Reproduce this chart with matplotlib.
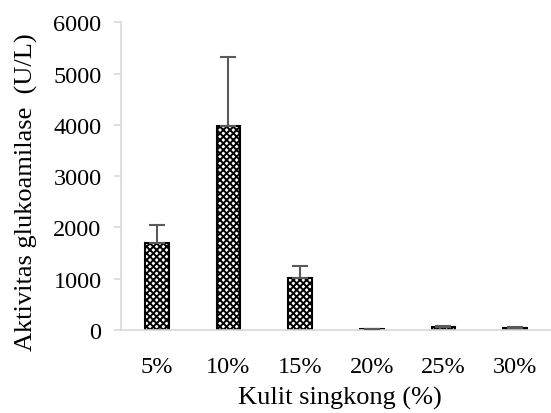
import numpy as np
import matplotlib.pyplot as plt
import matplotlib as mpl

plt.rcParams['font.family'] = ['Liberation Serif', 'DejaVu Serif']
mpl.rcParams['hatch.linewidth'] = 1.4

# data
categories = ['5%', '10%', '15%', '20%', '25%', '30%']
activity = [1690, 3980, 1010, 10, 60, 45]
err_up = [360, 1335, 240, 0, 20, 15]

fig = plt.figure(figsize=(5.51, 4.14), dpi=100)
ax = fig.add_axes([0.2196, 0.2005, 0.78, 0.7432])

x = np.arange(len(categories))
ax.bar(x, activity, width=0.33, color='white', edgecolor='black',
       linewidth=1.5, hatch='xxxxx', zorder=2)
ax.errorbar(x, activity, yerr=[np.zeros(len(x)), err_up], fmt='none',
            ecolor='#5a5a5a', elinewidth=1.5, capsize=6, capthick=1.5, zorder=3)

ax.set_xlim(-0.5, len(categories) - 0.5)
ax.set_ylim(0, 6000)
ax.set_yticks(np.arange(0, 6001, 1000))
ax.set_xticks(x)
ax.set_xticklabels(categories)

for s in ['top', 'right']:
    ax.spines[s].set_visible(False)
for s in ['left', 'bottom']:
    ax.spines[s].set_color('#d9d9d9')
    ax.spines[s].set_linewidth(1.2)
ax.tick_params(axis='y', colors='#d9d9d9', labelcolor='black', length=5,
               width=1.2, labelsize=17.5, pad=9)
ax.tick_params(axis='x', length=0, labelsize=17.5, pad=19)

ax.set_xlabel('Kulit singkong (%)', fontsize=19, va='center')
ax.set_ylabel('Aktivitas glukoamilase  (U/L)', fontsize=19, va='center')
ax.xaxis.set_label_coords(0.51, -0.218)
ax.yaxis.set_label_coords(-0.221, 0.45)

fig.savefig('out.png', dpi=100)
